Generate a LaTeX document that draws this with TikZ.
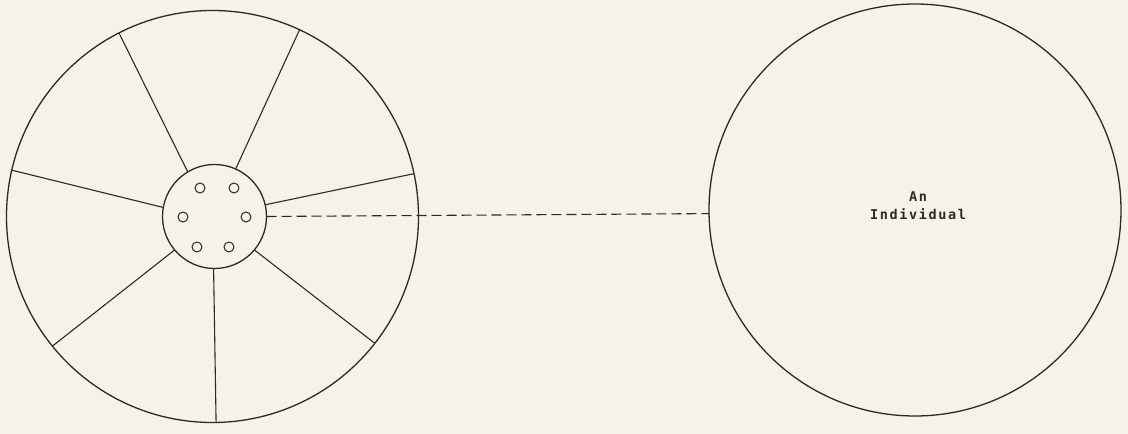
\documentclass[tikz,border=0pt]{standalone}
\usepackage{fontspec}
\newfontfamily\typefont{DejaVu Sans Mono}[LetterSpace=12]
\definecolor{paper}{RGB}{246,242,232}
\definecolor{ink}{RGB}{45,42,38}
\begin{document}
\begin{tikzpicture}[x=1pt,y=1pt,
  ring/.style={circle,draw=ink,line width=1.3pt,inner sep=0pt,outer sep=0pt},
  hole/.style={circle,draw=ink,line width=1pt,inner sep=0pt,minimum size=10pt},
  spoke/.style={draw=ink,line width=1.1pt},
  link/.style={draw=ink,line width=1.1pt,dash pattern=on 10pt off 5pt},
  lbl/.style={font=\typefont\bfseries\fontsize{13.5}{18}\selectfont,text=ink,align=center,inner sep=0pt}]
\fill[paper] (0,0) rectangle (1128,434);
\useasboundingbox (0,0) rectangle (1128,434);
% wheel
\node[ring,minimum size=412pt] (outer) at (212.5,217.5) {};
\node[ring,minimum size=104pt] (inner) at (214.5,217.5) {};
\foreach \i/\a/\b in {1/121.9/117.8,2/66.4/65.1,3/13.2/12.1,4/-40.5/-38.6,5/-91/-89.4,6/220.5/219.9,7/170/167.9}
  \draw[spoke] (inner.\a) -- (outer.\b);
% holes
\node[hole] (h1) at (200,246) {};
\node[hole] (h2) at (234,246) {};
\node[hole] (h3) at (183,217) {};
\node[hole] (h4) at (246,217) {};
\node[hole] (h5) at (197,187) {};
\node[hole] (h6) at (229,187) {};
% individual
\node[ring,minimum size=412pt] (indiv) at (915,224) {};
\node[lbl] (label) at (918,228) {An\\Individual};
\draw[link] (inner.east) -- (indiv.181);
\end{tikzpicture}
\end{document}
